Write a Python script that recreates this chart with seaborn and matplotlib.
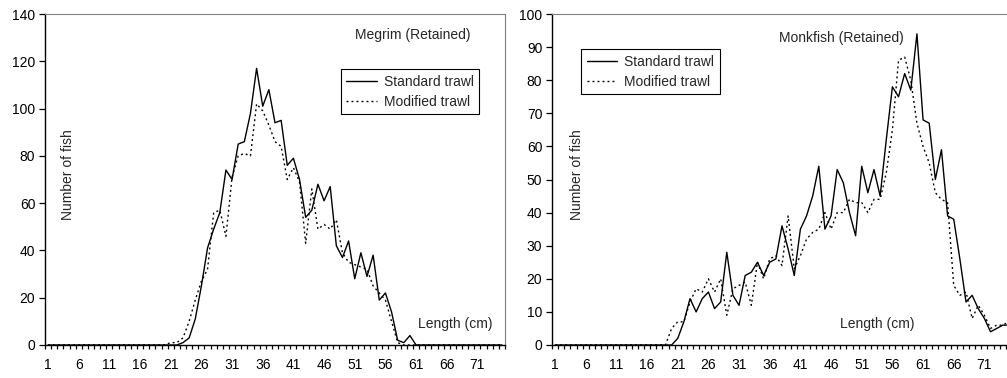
import numpy as np
import pandas as pd
import matplotlib
matplotlib.use("Agg")
import matplotlib.pyplot as plt
from matplotlib.lines import Line2D
import seaborn as sns

# ---------------- data ----------------
lengths = list(range(1, 76))
tick_lengths = [1, 6, 11, 16, 21, 26, 31, 36, 41, 46, 51, 56, 61, 66, 71]
gears = ["Standard trawl", "Modified trawl"]

megrim_standard = [0, 0, 0, 0, 0, 0, 0, 0, 0, 0,
                   0, 0, 0, 0, 0, 0, 0, 0, 0, 0,
                   0, 0, 1, 3, 11, 25, 41, 49, 56, 74,
                   70, 85, 86, 98, 117, 101, 108, 94, 95, 76,
                   79, 70, 54, 57, 68, 61, 67, 42, 37, 44,
                   28, 39, 29, 38, 19, 22, 14, 2, 1, 4,
                   0, 0, 0, 0, 0, 0, 0, 0, 0, 0,
                   0, 0, 0, 0, 0]
megrim_modified = [0, 0, 0, 0, 0, 0, 0, 0, 0, 0,
                   0, 0, 0, 0, 0, 0, 0, 0, 0, 0,
                   1, 1, 3, 10, 19, 27, 32, 56, 57, 46,
                   71, 80, 81, 80, 102, 99, 93, 86, 84, 70,
                   75, 69, 43, 66, 49, 51, 49, 53, 39, 35,
                   34, 33, 32, 25, 22, 19, 10, 1, 0, 0,
                   0, 0, 0, 0, 0, 0, 0, 0, 0, 0,
                   0, 0, 0, 0, 0]
monk_standard = [0, 0, 0, 0, 0, 0, 0, 0, 0, 0,
                 0, 0, 0, 0, 0, 0, 0, 0, 0, 0,
                 2, 7, 14, 10, 14, 16, 11, 13, 28, 15,
                 12, 21, 22, 25, 21, 25, 26, 36, 29, 21,
                 35, 39, 45, 54, 35, 39, 53, 49, 40, 33,
                 54, 46, 53, 45, 62, 78, 75, 82, 77, 94,
                 68, 67, 50, 59, 39, 38, 26, 13, 15, 11,
                 8, 4, 5, 6, 6]
monk_modified = [0, 0, 0, 0, 0, 0, 0, 0, 0, 0,
                 0, 0, 0, 0, 0, 0, 0, 0, 0, 5,
                 7, 7, 13, 17, 16, 20, 16, 20, 9, 17,
                 18, 19, 12, 25, 20, 26, 27, 24, 39, 23,
                 27, 32, 34, 35, 40, 35, 40, 40, 44, 43,
                 43, 40, 44, 44, 52, 65, 86, 87, 80, 67,
                 60, 55, 46, 44, 43, 18, 15, 16, 8, 12,
                 9, 5, 6, 6, 7]

# ---------------- style ----------------
sns.set_style("ticks")
plt.rcParams["font.family"] = ["Liberation Sans", "DejaVu Sans"]
plt.rcParams["font.size"] = 10

W, H = 1007, 378
fig = plt.figure(figsize=(W / 100, H / 100), dpi=100)

DOT = (1.4, 2.2)
DASHES = {"Standard trawl": "", "Modified trawl": DOT}
PAL = {"Standard trawl": "black", "Modified trawl": "black"}


def panel(x0, standard, modified, ymax, ystep, title, title_xy, len_xy,
          ylab_xy, leg_xy):
    ax = fig.add_axes([x0 / W, 1 - 345 / H, 460 / W, 331 / H])
    df = pd.DataFrame({
        "Length": lengths + lengths,
        "Count": standard + modified,
        "Gear": [gears[0]] * len(lengths) + [gears[1]] * len(lengths),
    })
    sns.lineplot(data=df, x="Length", y="Count", hue="Gear", style="Gear",
                 hue_order=gears, style_order=gears, palette=PAL,
                 dashes=DASHES, linewidth=1.0, legend=False, ax=ax)
    ax.set_xlim(0.5, 75.5)
    ax.set_ylim(0, ymax)
    ax.set_yticks(np.arange(0, ymax + 1, ystep))
    # category boundaries carry the tick marks, labels sit on categories
    ax.set_xticks(np.arange(0.5, 76, 1))
    ax.set_xticklabels([])
    ax.set_xticks(tick_lengths, minor=True)
    ax.set_xticklabels([str(t) for t in tick_lengths], minor=True)
    ax.set_xlabel("")
    ax.set_ylabel("")
    ax.tick_params(axis="x", which="major", bottom=True, length=3,
                   width=0.9, direction="out", color="black")
    ax.tick_params(axis="x", which="minor", bottom=True, length=0, pad=9.5,
                   labelsize=10, labelcolor="black")
    ax.tick_params(axis="y", which="major", left=True, length=4,
                   width=0.9, pad=3.0, labelsize=10, direction="out",
                   color="black", labelcolor="black")
    for s in ("left", "bottom"):
        ax.spines[s].set_color("black")
        ax.spines[s].set_linewidth(1.0)
    for s in ("top", "right"):
        ax.spines[s].set_visible(True)
        ax.spines[s].set_color("#808080")
        ax.spines[s].set_linewidth(0.8)

    ax.text(*title_xy, title, transform=ax.transAxes, ha="center",
            va="center", fontsize=10)
    ax.text(*len_xy, "Length (cm)", transform=ax.transAxes, ha="center",
            va="center", fontsize=10)
    ax.text(*ylab_xy, "Number of fish", transform=ax.transAxes,
            ha="center", va="center", rotation=90, fontsize=10)

    handles = [Line2D([], [], color="black", lw=1.0, linestyle="-"),
               Line2D([], [], color="black", lw=1.0,
                      linestyle=(0, DOT))]
    leg = ax.legend(handles, gears, loc="upper left", bbox_to_anchor=leg_xy,
                    borderaxespad=0, frameon=True, fancybox=False,
                    edgecolor="black", framealpha=1, handlelength=2.2,
                    handletextpad=0.5, borderpad=0.4, labelspacing=0.45,
                    fontsize=10)
    leg.get_frame().set_linewidth(0.8)
    return ax


panel(45, megrim_standard, megrim_modified, 140, 20, "Megrim (Retained)",
      (0.80, 0.937), (0.891, 0.063), (0.05, 0.514), (0.643, 0.834))
panel(552, monk_standard, monk_modified, 100, 10, "Monkfish (Retained)",
      (0.630, 0.927), (0.7065, 0.063), (0.054, 0.514), (0.063, 0.894))

fig.savefig("out.png", dpi=100)
